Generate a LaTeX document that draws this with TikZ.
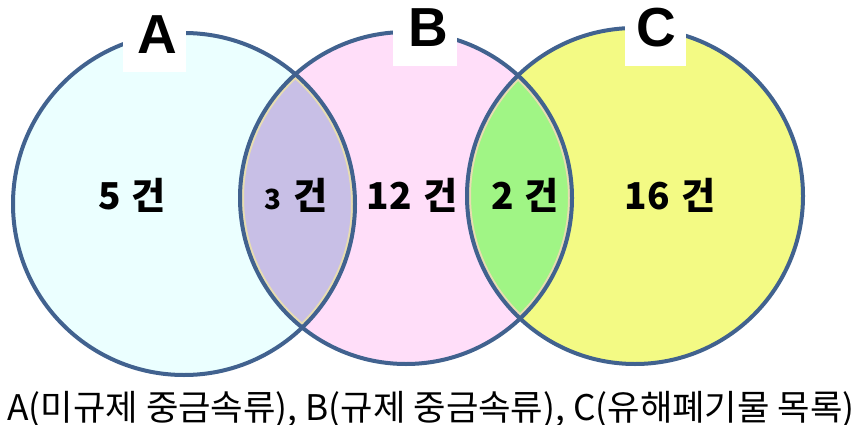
\documentclass[tikz,border=0pt]{standalone}
\usepackage{graphicx}
\usepackage{fontspec}
\newfontfamily\kr{Noto Sans CJK KR}
\newfontfamily\lat{Liberation Sans}
\definecolor{fillA}{HTML}{EBFFFF}
\definecolor{fillB}{HTML}{FFDEF9}
\definecolor{fillC}{HTML}{F3FA84}
\definecolor{fillAB}{HTML}{C8BFE6}
\definecolor{fillBC}{HTML}{A0F585}
\definecolor{edge}{HTML}{41628F}
\definecolor{glow}{HTML}{E8DDB0}
\begin{document}
\begin{tikzpicture}[x=1pt,y=-1pt,
  ring/.style={draw=edge,line width=4pt},
  halo/.style={draw=glow,line width=8pt},
  big/.style={font=\lat\bfseries\fontsize{55}{55}\selectfont,inner sep=0pt},
  count/.style={font=\kr\bfseries\fontsize{37}{37}\selectfont,inner sep=0pt},
  caption/.style={font=\kr\fontsize{35.3}{35.3}\selectfont,inner sep=0pt}]
\useasboundingbox (0,0) rectangle (861,425);
\coordinate (ca) at (184,204);
\coordinate (cb) at (406,198);
\coordinate (cc) at (635,196);
% fills
\fill[fillA] (ca) circle[radius=171pt];
\fill[fillB] (cb) circle[radius=166pt];
\fill[fillC] (cc) circle[radius=168pt];
\begin{scope}
  \clip (ca) circle[radius=171pt];
  \fill[fillAB] (cb) circle[radius=166pt];
  \begin{scope}
    \clip (cb) circle[radius=166pt];
    \draw[halo] (cb) circle[radius=166pt];
    \draw[halo] (ca) circle[radius=171pt];
  \end{scope}
\end{scope}
\begin{scope}
  \clip (cb) circle[radius=166pt];
  \fill[fillBC] (cc) circle[radius=168pt];
  \begin{scope}
    \clip (cc) circle[radius=168pt];
    \draw[halo] (cc) circle[radius=168pt];
    \draw[halo] (cb) circle[radius=166pt];
  \end{scope}
\end{scope}
% outlines
\draw[ring] (ca) circle[radius=171pt];
\draw[ring] (cb) circle[radius=166pt];
\draw[ring] (cc) circle[radius=168pt];
% letter tags
\fill[white] (123,0) rectangle (186,72);
\fill[white] (393,0) rectangle (457,66);
\fill[white] (625,0) rectangle (686,66);
\node[big] (la) at (157,35) {A};
\node[big] (lb) at (428,28) {B};
\node[big] (lc) at (656,28) {C};
% counts
\node[count] (n5) at (132,195) {5\hspace{0.3em}건};
\node[count] (n3) at (296,195) {\scalebox{0.75}{3}\hspace{0.35em}건};
\node[count] (n12) at (412,195) {12\hspace{0.3em}건};
\node[count] (n2) at (525,195) {2\hspace{0.3em}건};
\node[count] (n16) at (670,195) {16\hspace{0.3em}건};
% caption
\node[caption,anchor=base] (cap) at (431,420) {A(미규제 중금속류), B(규제 중금속류), C(유해폐기물 목록)};
\end{tikzpicture}
\end{document}
